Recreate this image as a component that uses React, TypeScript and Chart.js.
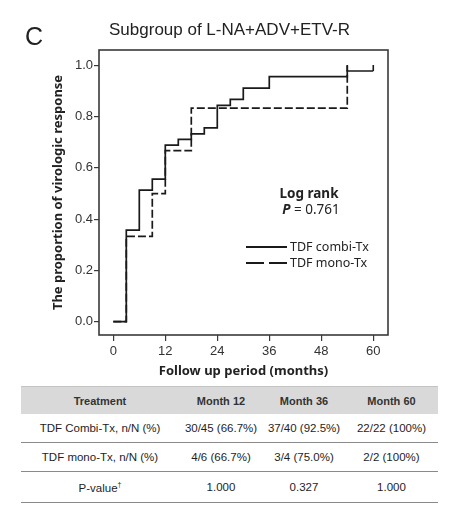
import React, { useEffect, useRef } from "react";
import { Chart, registerables } from "chart.js";

Chart.register(...registerables);

// ---- data ----
const combiTimes = [0, 3, 6, 9, 12, 15, 18, 21, 24, 27, 30, 36, 54, 60];
const combiValues = [0, 0.357, 0.513, 0.556, 0.689, 0.711, 0.733, 0.756, 0.844, 0.867, 0.911, 0.956, 0.978, 0.978];
const monoTimes = [0, 3, 9, 12, 18, 54];
const monoValues = [0, 0.333, 0.5, 0.667, 0.833, 1.0];
const censorTimes = [54, 60];
const censorValues = [0.978, 0.978];
const xTicks = [0, 12, 24, 36, 48, 60];
const yTicks = [0, 0.2, 0.4, 0.6, 0.8, 1.0];
const seriesNames = ["TDF combi-Tx", "TDF mono-Tx"];

const tableHeaders = ["Treatment", "Month 12", "Month 36", "Month 60"];
const treatments = ["TDF Combi-Tx, n/N (%)", "TDF mono-Tx, n/N (%)", "P-value"];
const month12 = ["30/45 (66.7%)", "4/6 (66.7%)", "1.000"];
const month36 = ["37/40 (92.5%)", "3/4 (75.0%)", "0.327"];
const month60 = ["22/22 (100%)", "2/2 (100%)", "1.000"];

const LINE = "#1a1a1a";
const AXIS = "#3a3a3a";
const SANS = '"Liberation Sans", Arial, sans-serif';
const NOTO = '"Noto Sans", "Open Sans", sans-serif';

const overlay = {
  id: "overlay",
  afterDraw(chart: any) {
    const { ctx, chartArea: a, scales } = chart;
    const x = scales.x;
    const y = scales.y;
    ctx.save();
    // frame
    ctx.strokeStyle = AXIS;
    ctx.lineWidth = 1.6;
    ctx.strokeRect(a.left, a.top, a.right - a.left, a.bottom - a.top);
    // censor marks
    ctx.strokeStyle = LINE;
    ctx.lineWidth = 1.6;
    censorTimes.forEach((t, i) => {
      const px = x.getPixelForValue(t);
      const py = y.getPixelForValue(censorValues[i]);
      ctx.beginPath();
      ctx.moveTo(px, py);
      ctx.lineTo(px, py - 6);
      ctx.stroke();
    });
    // panel letter & title
    ctx.fillStyle = "#222";
    ctx.textBaseline = "alphabetic";
    ctx.textAlign = "left";
    ctx.font = `25px ${SANS}`;
    ctx.fillText("C", 25, 45);
    ctx.textAlign = "center";
    ctx.font = `17px ${SANS}`;
    ctx.fillText("Subgroup of L-NA+ADV+ETV-R", 229.5, 35);
    // log rank
    ctx.font = `bold 13.5px ${NOTO}`;
    ctx.fillText("Log rank", 309, 198);
    ctx.textAlign = "left";
    ctx.font = `italic bold 13.5px ${NOTO}`;
    const pW = ctx.measureText("P").width;
    ctx.font = `13.5px ${NOTO}`;
    const restW = ctx.measureText(" = 0.761").width;
    const startX = 311 - (pW + restW) / 2;
    ctx.font = `italic bold 13.5px ${NOTO}`;
    ctx.fillText("P", startX, 214);
    ctx.font = `13.5px ${NOTO}`;
    ctx.fillText(" = 0.761", startX + pW, 214);
    // legend
    const legY = [247, 263];
    ctx.lineWidth = 1.8;
    ctx.strokeStyle = LINE;
    legY.forEach((ly, i) => {
      ctx.setLineDash(i === 0 ? [] : [18, 5]);
      ctx.beginPath();
      ctx.moveTo(246, ly);
      ctx.lineTo(287, ly);
      ctx.stroke();
      ctx.setLineDash([]);
      ctx.textBaseline = "middle";
      ctx.font = `12.5px ${NOTO}`;
      ctx.fillText(seriesNames[i], 290, ly);
    });
    ctx.restore();
  },
};

function KMChart() {
  const ref = useRef<HTMLCanvasElement | null>(null);
  useEffect(() => {
    if (!ref.current) return;
    const chart = new Chart(ref.current, {
      type: "line",
      data: {
        datasets: [
          {
            label: seriesNames[0],
            data: combiTimes.map((t, i) => ({ x: t, y: combiValues[i] })),
            stepped: "before",
            borderColor: LINE,
            borderWidth: 1.7,
            pointRadius: 0,
            fill: false,
          },
          {
            label: seriesNames[1],
            data: monoTimes.map((t, i) => ({ x: t, y: monoValues[i] })),
            stepped: "before",
            borderColor: LINE,
            borderWidth: 1.7,
            borderDash: [8, 3],
            pointRadius: 0,
            fill: false,
          },
        ],
      },
      options: {
        animation: false,
        responsive: false,
        maintainAspectRatio: false,
        layout: { padding: { left: 0, right: 67, top: 50, bottom: 0 } },
        plugins: { legend: { display: false }, tooltip: { enabled: false }, title: { display: false } },
        scales: {
          x: {
            type: "linear",
            min: -3.3,
            max: 63.4,
            afterFit: (s: any) => {
              s.height = 45;
            },
            afterBuildTicks: (s: any) => {
              s.ticks = xTicks.map((v) => ({ value: v }));
            },
            ticks: {
              font: { family: SANS, size: 13 },
              color: "#333",
              padding: 3,
              maxRotation: 0,
              autoSkip: false,
            },
            grid: { drawOnChartArea: false, drawTicks: true, tickLength: 6, color: AXIS, lineWidth: 1.2 },
            border: { display: false },
            title: {
              display: true,
              text: "Follow up period (months)",
              font: { family: NOTO, size: 13, weight: "bold" },
              color: "#222",
              padding: { top: 0, bottom: 1.2 },
            },
          },
          y: {
            type: "linear",
            min: -0.052,
            max: 1.06,
            afterFit: (s: any) => {
              s.width = 99;
            },
            afterBuildTicks: (s: any) => {
              s.ticks = yTicks.map((v) => ({ value: v }));
            },
            ticks: {
              font: { family: SANS, size: 13 },
              color: "#333",
              padding: 1,
              callback: (v: any) => Number(v).toFixed(1),
            },
            grid: { drawOnChartArea: false, drawTicks: true, tickLength: 5, color: AXIS, lineWidth: 1.2 },
            border: { display: false },
            title: {
              display: true,
              text: "The proportion of virologic response",
              font: { family: NOTO, size: 13, weight: "bold" },
              color: "#222",
              padding: { top: 50, bottom: 0 },
            },
          },
        },
      },
      plugins: [overlay],
    } as any);
    return () => chart.destroy();
  }, []);
  return <canvas ref={ref} width={455} height={380} style={{ display: "block", width: 455, height: 380 }} />;
}

const colWidths = [158, 84, 82, 93];
const rowHeights = [29, 29, 31];

function ResultTable() {
  const columns = [treatments, month12, month36, month60];
  return (
    <div style={{ position: "absolute", left: 21, top: 386, width: 417, fontFamily: SANS, color: "#1e1e1e" }}>
      <div
        style={{
          height: 28,
          background: "#d9d9d9",
          borderTop: "1px solid #c4c4c4",
          boxSizing: "border-box",
          display: "flex",
          alignItems: "center",
          fontWeight: "bold",
          fontSize: 11,
          color: "#333",
        }}
      >
        {tableHeaders.map((h, i) => (
          <div key={h} style={{ width: colWidths[i], textAlign: "center" }}>
            {h}
          </div>
        ))}
      </div>
      {treatments.map((_, r) => (
        <div
          key={r}
          style={{
            height: rowHeights[r],
            borderBottom: "1px solid #8a8a8a",
            boxSizing: "border-box",
            display: "flex",
            alignItems: "center",
            fontSize: 11.5,
          }}
        >
          {columns.map((col, c) => (
            <div key={c} style={{ width: colWidths[c], textAlign: "center", whiteSpace: "nowrap" }}>
              {col[r]}
              {c === 0 && r === 2 ? <span style={{ fontSize: 7, verticalAlign: "super" }}>†</span> : null}
            </div>
          ))}
        </div>
      ))}
    </div>
  );
}

export default function App() {
  return (
    <div style={{ position: "absolute", left: 0, top: 0, width: 455, height: 515, background: "#fff", overflow: "hidden" }}>
      <KMChart />
      <ResultTable />
    </div>
  );
}
